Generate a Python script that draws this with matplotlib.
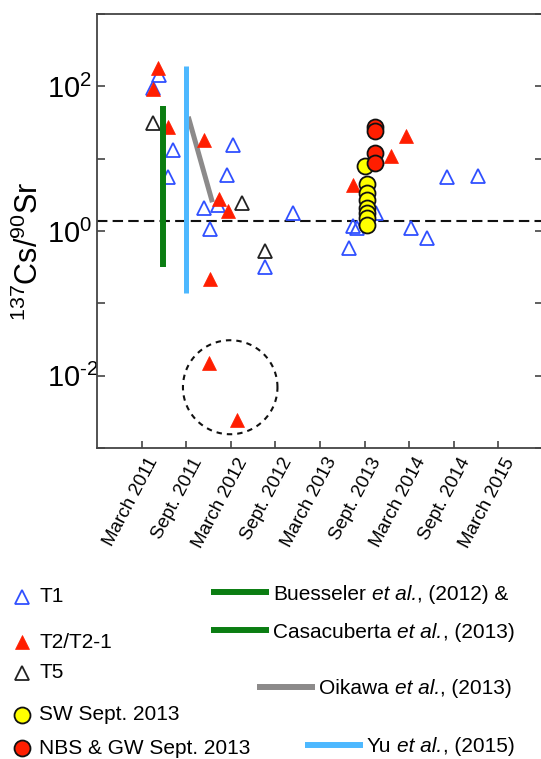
import numpy as np
import matplotlib
matplotlib.use('Agg')
import matplotlib.pyplot as plt
from matplotlib.lines import Line2D
from matplotlib.transforms import ScaledTranslation

plt.rcParams['font.family'] = ['Liberation Sans', 'DejaVu Sans']
plt.rcParams['mathtext.fontset'] = 'custom'
plt.rcParams['mathtext.rm'] = 'Liberation Sans'
plt.rcParams['mathtext.it'] = 'Liberation Sans:italic'
plt.rcParams['mathtext.default'] = 'regular'

# decimal year, 137Cs/90Sr ratio
t1_x = [2011.29, 2011.36, 2011.46, 2011.52, 2011.87, 2011.93, 2012.02, 2012.12,
        2012.19, 2012.55, 2012.86, 2013.49, 2013.54, 2013.58, 2013.80, 2014.19,
        2014.37, 2014.59, 2014.94]
t1_y = [95, 145, 5.6, 13, 2.1, 1.07, 2.3, 5.9,
        15.5, 0.32, 1.8, 0.58, 1.17, 1.1, 1.8, 1.1,
        0.8, 5.6, 5.8]

t2_x = [2011.29, 2011.35, 2011.46, 2011.87, 2011.92, 2011.93, 2012.03, 2012.13,
        2012.24, 2013.54, 2013.96, 2014.13]
t2_y = [92, 180, 27, 18, 0.015, 0.22, 2.8, 1.9,
        0.0024, 4.3, 11, 20.6]

t5_x = [2011.29, 2012.29, 2012.55]
t5_y = [31, 2.4, 0.53]

sw_x = [2013.67, 2013.69, 2013.69, 2013.69, 2013.69, 2013.69, 2013.69, 2013.69]
sw_y = [7.9, 4.5, 3.4, 2.7, 2.1, 1.8, 1.5, 1.2]

nbs_x = [2013.78, 2013.78, 2013.78, 2013.78]
nbs_y = [27.5, 24, 12, 8.7]

buesseler_x = [2011.41, 2011.41]
buesseler_y = [0.32, 54]
yu_x = [2011.66, 2011.66]
yu_y = [0.14, 192]
oikawa_x = [2011.69, 2011.96]
oikawa_y = [38, 2.5]

ref_ratio = 1.38

# dashed circle around the two outliers (centre and radius in year / decades)
circ_x, circ_logy, circ_rx, circ_ry = 2012.16, -2.16, 0.53, 0.65

tick_pos = [2011 + 2/12, 2011 + 8/12, 2012 + 2/12, 2012 + 8/12, 2013 + 2/12,
            2013 + 8/12, 2014 + 2/12, 2014 + 8/12, 2015 + 2/12]
tick_lab = ['March 2011', 'Sept. 2011', 'March 2012', 'Sept. 2012', 'March 2013',
            'Sept. 2013', 'March 2014', 'Sept. 2014', 'March 2015']

blue = '#3050ff'
red = '#ff1e00'
green = '#0b7d12'
sky = '#4db8ff'
grey = '#8c8a8a'

W, H = 541, 759
fig = plt.figure(figsize=(W / 100, H / 100), dpi=100)
ax = fig.add_axes([97 / W, 1 - 448 / H, 446 / W, 434 / H])

tri = dict(marker='^', ms=10.5, ls='none')
s_t1 = dict(tri, mfc='none', mec=blue, mew=1.3)
s_t2 = dict(tri, mfc=red, mec=red, mew=0.5)
s_t5 = dict(tri, mfc='none', mec='#222222', mew=1.3)
s_sw = dict(marker='o', ms=11.5, ls='none', mfc='#ffff00', mec='#111111', mew=1.3)
s_nbs = dict(marker='o', ms=11.5, ls='none', mfc=red, mec='#111111', mew=1.3)

ax.plot(t1_x, t1_y, zorder=2, **s_t1)
ax.plot(t2_x, t2_y, zorder=2, **s_t2)
ax.plot(t5_x, t5_y, zorder=2, **s_t5)

ax.plot(buesseler_x, buesseler_y, color=green, lw=4.3, solid_capstyle='butt', zorder=3)
ax.plot(yu_x, yu_y, color=sky, lw=3.6, solid_capstyle='butt', zorder=3)
ax.plot(oikawa_x, oikawa_y, color=grey, lw=3.6, solid_capstyle='butt', zorder=1.5)

ax.plot(sw_x, sw_y, zorder=4, **s_sw)
ax.plot(nbs_x, nbs_y, zorder=5, **s_nbs)

ax.axhline(ref_ratio, color='#111111', lw=1.5, dashes=(5, 2.5), zorder=1)

t = np.linspace(0, 2 * np.pi, 200)
ax.plot(circ_x + circ_rx * np.cos(t), 10 ** (circ_logy + circ_ry * np.sin(t)),
        color='#111111', lw=1.5, dashes=(2.6, 2.4), zorder=1)

ax.set_yscale('log')
ax.set_xlim(2010 + 8/12, 2015 + 8/12)
ax.set_ylim(1e-3, 1e3)
ax.set_yticks([1e-3, 1e-2, 1e-1, 1e0, 1e1, 1e2, 1e3])
ax.set_yticklabels(['', r'$10^{\text{-}2}$', '', r'$10^{0}$', '', r'$10^{2}$', ''],
                   fontsize=21, ha='left')
ax.yaxis.set_minor_locator(plt.NullLocator())
ax.set_xticks(tick_pos)
ax.set_xticklabels(tick_lab, fontsize=13.5, rotation=62, ha='right', rotation_mode='anchor')

ax.tick_params(axis='y', which='major', direction='in', length=6, width=1.2,
               color='#444444', right=True, pad=36)
ax.tick_params(axis='x', which='major', direction='in', length=5, width=1.2,
               color='#444444', pad=2)
for lab in ax.get_xticklabels():
    lab.set_transform(lab.get_transform() + ScaledTranslation(0.05, -0.04, fig.dpi_scale_trans))

for sp in ax.spines.values():
    sp.set_color('#444444')
    sp.set_linewidth(1.3)
ax.spines['right'].set_visible(False)

fig.text(29 / W, 1 - 251 / H, r'$^{137}$Cs/$^{90}$Sr', rotation=90, fontsize=22,
         ha='center', va='center')

# legend, left column
left_items = [(597, s_t1, 'T1'), (642, s_t2, 'T2/T2-1'), (673, s_t5, 'T5'),
              (715, s_sw, 'SW Sept. 2013'), (748, s_nbs, 'NBS & GW Sept. 2013')]
for py, st, txt in left_items:
    fig.add_artist(Line2D([22 / W], [1 - py / H], transform=fig.transFigure, **st))
    fig.text(39 / W, 1 - py / H, txt, fontsize=15, ha='left', va='center')

# legend, right column: author (upright), "et al." (italic), rest (upright)
right_items = [(592, 211, green, 'Buesseler', ', (2012) &'),
               (630, 211, green, 'Casacuberta', ', (2013)'),
               (687, 257, grey, 'Oikawa', ', (2013)'),
               (745, 305, sky, 'Yu', ', (2015)')]
renderer = fig.canvas.get_renderer()
space = 0.278 * 15 * 100 / 72
for py, px, col, author, rest in right_items:
    fig.add_artist(Line2D([px / W, (px + 58) / W], [1 - py / H, 1 - py / H],
                          transform=fig.transFigure, color=col, lw=4.3,
                          solid_capstyle='butt'))
    xb = px + 62
    yb = 1 - (py + 7.5) / H
    for piece, style, gap in [(author, 'normal', space), ('et al.', 'italic', 0.5), (rest, 'normal', 0)]:
        tx = fig.text(xb / W, yb, piece, fontsize=15, style=style, ha='left', va='baseline')
        xb += tx.get_window_extent(renderer).width + gap

fig.savefig('out.png', dpi=100)
